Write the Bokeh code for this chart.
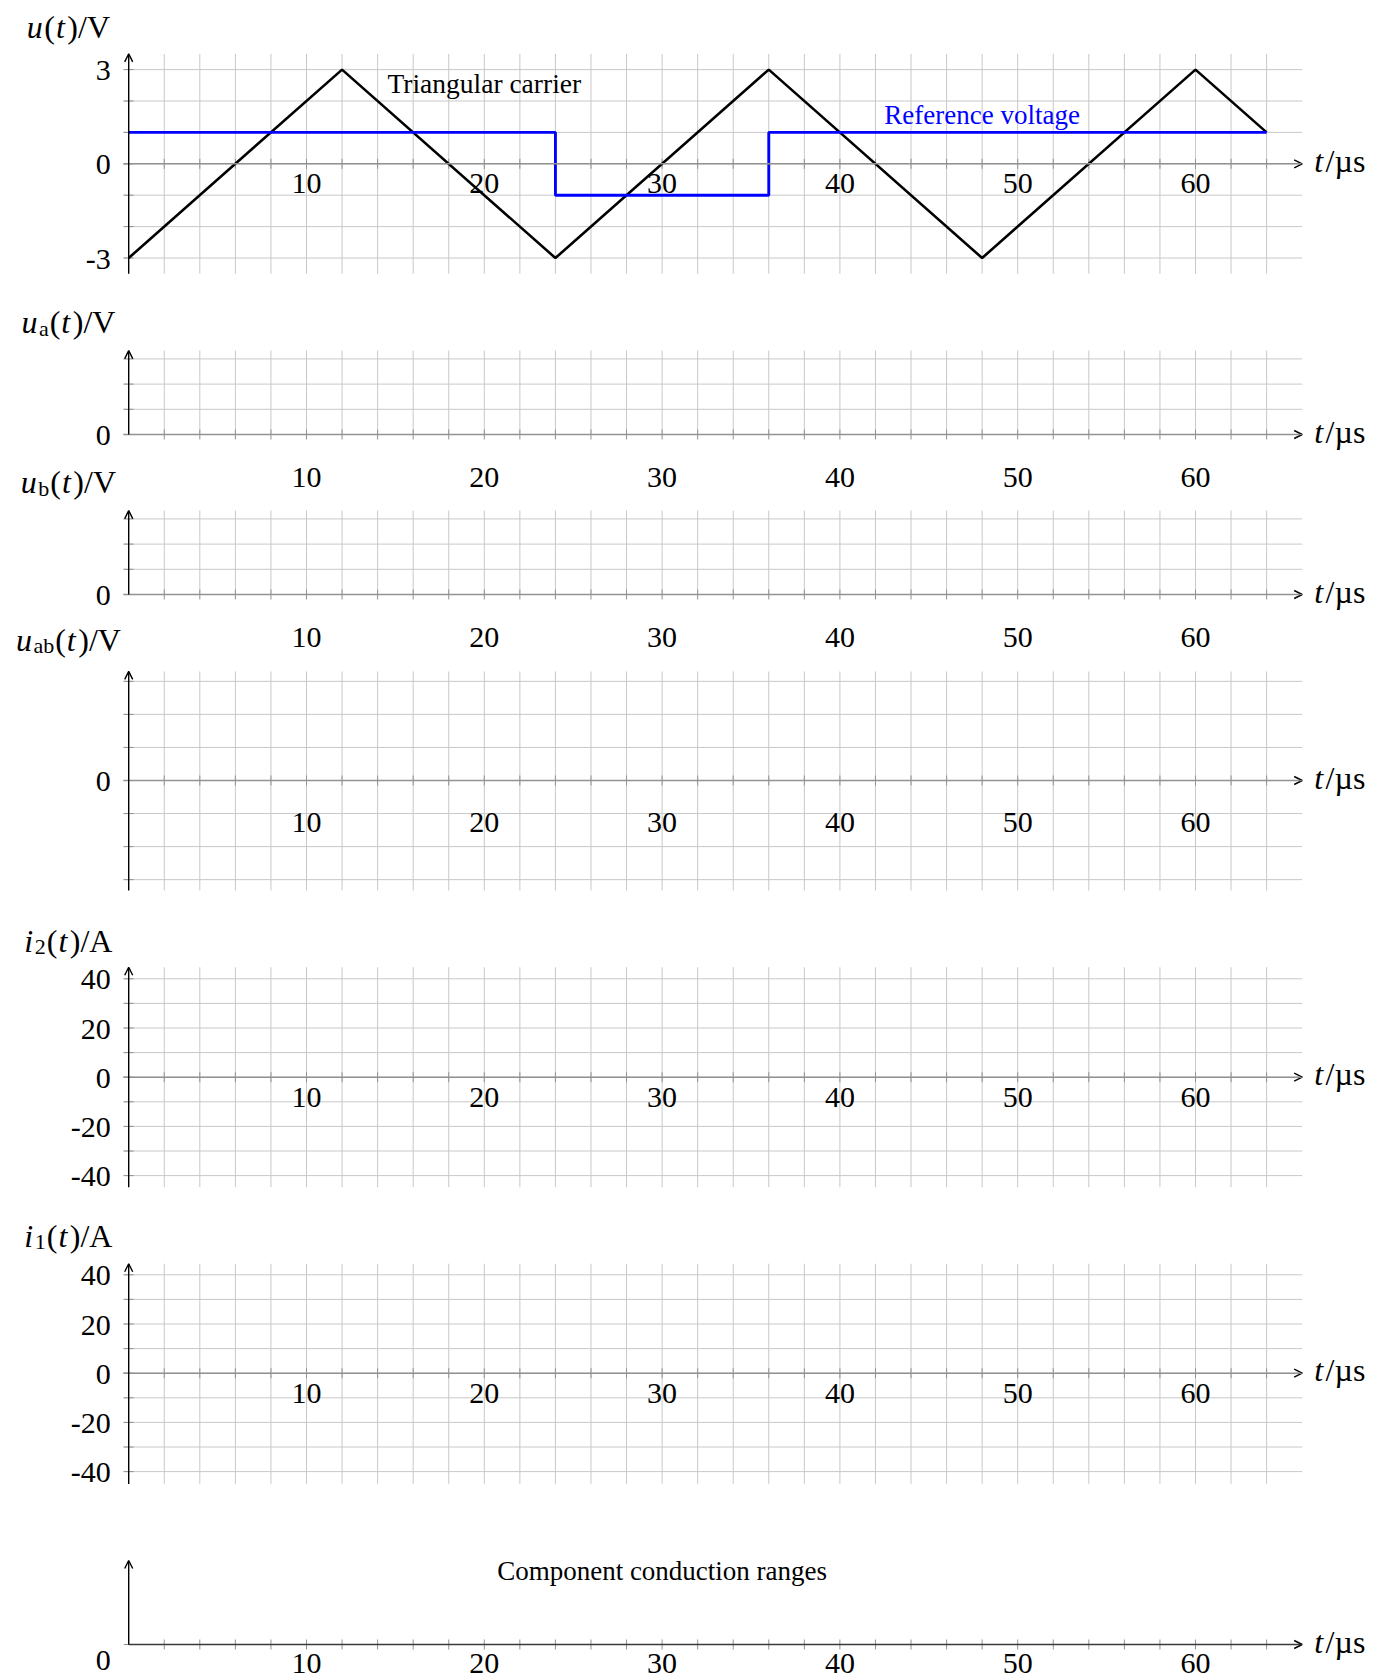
import numpy as np
from bokeh.plotting import figure
from bokeh.models import Range1d, Arrow, OpenHead
from bokeh.core.properties import value
from bokeh.embed import file_html
from bokeh.resources import INLINE

# ---------------- data ----------------
carrier_t = [0, 12, 24, 36, 48, 60, 64]
carrier_u = [-3, 3, -3, 3, -3, 3, 1]
reference_t = [0, 24, 24, 36, 36, 64]
reference_u = [1, 1, -1, -1, 1, 1]

time_ticks = [2, 4, 6, 8, 10, 12, 14, 16, 18, 20, 22, 24, 26, 28, 30, 32,
              34, 36, 38, 40, 42, 44, 46, 48, 50, 52, 54, 56, 58, 60, 62, 64]
time_label_values = [10, 20, 30, 40, 50, 60]
time_labels = ["10", "20", "30", "40", "50", "60"]

u_grid = [-3, -2, -1, 0, 1, 2, 3]
u_tick_values = [3, 0, -3]
u_tick_labels = ["3", "0", "-3"]
uab_grid = [0, 1, 2, 3]           # u_a and u_b panels
uab_diff_grid = [-3, -2, -1, 0, 1, 2, 3]
zero_tick_values = [0]
zero_tick_labels = ["0"]
i_grid = [-40, -30, -20, -10, 0, 10, 20, 30, 40]
i_tick_values = [40, 20, 0, -20, -40]
i_tick_labels = ["40", "20", "0", "-20", "-40"]

# ---------------- layout ----------------
W, H = 1386, 1679
X0 = 128.2      # px of t = 0
SX = 17.78      # px per microsecond
FONT = value("Liberation Serif")
GRID = "#c8c8c8"
TICK = "#929292"

p = figure(width=W, height=H, output_backend="svg", toolbar_location=None,
           x_range=Range1d(-X0 / SX, (W - X0) / SX), y_range=Range1d(0, 1),
           x_axis_location=None, y_axis_location=None, min_border=0,
           outline_line_color=None, background_fill_color="white",
           border_fill_color="white")
p.grid.visible = False

REG = {'(': 333, ')': 333, '/': 278, 'V': 722, 'A': 722, 'a': 444, 'b': 500,
       '1': 500, '2': 500, 'µ': 500, 's': 389}
ITA = {'u': 500, 't': 278, 'i': 278}


def piece_width(txt, style, size):
    table = ITA if style == "italic" else REG
    return sum(table.get(c, 500) for c in txt) / 1000.0 * size


def composite(pieces, x, y, yname, align="center", dx=0.0, dy=0.0):
    total = sum(piece_width(t, s, z) + g for t, s, z, _, g in pieces)
    start = -total / 2 if align == "center" else 0.0
    start += dx
    for t, s, z, shift, gap in pieces:
        p.text(x=[x], y=[y], text=[t], x_offset=start, y_offset=shift + dy,
               text_align="left", text_baseline="alphabetic",
               text_font=FONT, text_font_style=s, text_font_size=f"{z}px",
               text_color="black", y_range_name=yname)
        start += piece_width(t, s, z) + gap


LS = 32   # label font size
SS = 22   # subscript font size


def ylabel_pieces(sub, unit):
    main = "i" if unit == "A" else "u"
    out = [(main, "italic", LS, 0, 1.5)]
    if sub:
        out.append((sub, "normal", SS, 6, 1))
    out += [("(", "normal", LS, 0, 1), ("t", "italic", LS, 0, 2.5),
            (")/" + unit, "normal", LS, 0, 0)]
    return out


panels = [
    dict(name="p1", y0=163.3, s=31.4, ymin=-3.5, ymax=3.5, grid=u_grid,
         tv=u_tick_values, tl=u_tick_labels, xl_dy=20, lab=("", "V"), lab_y=4.09),
    dict(name="p2", y0=434.0, s=25.2, ymin=0, ymax=3.33, grid=uab_grid,
         tv=zero_tick_values, tl=zero_tick_labels, xl_dy=42.7, lab=("a", "V"), lab_y=4.13),
    dict(name="p3", y0=594.0, s=25.2, ymin=0, ymax=3.33, grid=uab_grid,
         tv=zero_tick_values, tl=zero_tick_labels, xl_dy=42.7, lab=("b", "V"), lab_y=4.13),
    dict(name="p4", y0=780.0, s=33.05, ymin=-3.33, ymax=3.3, grid=uab_diff_grid,
         tv=zero_tick_values, tl=zero_tick_labels, xl_dy=42, lab=("ab", "V"), lab_y=4.02),
    dict(name="p5", y0=1076.7, s=2.46, ymin=-44.7, ymax=44.7, grid=i_grid,
         tv=i_tick_values, tl=i_tick_labels, xl_dy=20, lab=("2", "A"), lab_y=52.2),
    dict(name="p6", y0=1372.7, s=2.46, ymin=-45, ymax=44.5, grid=i_grid,
         tv=i_tick_values, tl=i_tick_labels, xl_dy=20.3, lab=("1", "A"), lab_y=52.5),
    dict(name="p7", y0=1644.0, s=25.0, ymin=0, ymax=3.36, grid=None,
         tv=zero_tick_values, tl=zero_tick_labels, xl_dy=19.3, lab=None, lab_y=None),
]

for cfg in panels:
    name = cfg["name"]
    y0 = cfg["y0"]
    s = cfg["s"]
    p.extra_y_ranges[name] = Range1d(-(H - y0) / s, y0 / s)
    ymin, ymax = cfg["ymin"], cfg["ymax"]

    if cfg["grid"] is not None:
        p.segment(x0=time_ticks, y0=[ymin] * len(time_ticks), x1=time_ticks,
                  y1=[ymax] * len(time_ticks), line_color=GRID, line_width=1,
                  y_range_name=name)
        g = cfg["grid"]
        p.segment(x0=[-0.3] * len(g), y0=g, x1=[66.0] * len(g), y1=g,
                  line_color=GRID, line_width=1, y_range_name=name)
        p.scatter(x=[0] * len(g), y=g, marker="dash", size=10, line_color=TICK,
                  line_width=1, y_range_name=name)
        xcol = TICK
        xstart = -0.3
    else:
        p.scatter(x=[0], y=[0], marker="dash", size=10, line_color=TICK,
                  line_width=1, y_range_name=name)
        xcol = "#3a3a3a"
        xstart = 0.0

    # x tick marks
    p.scatter(x=time_ticks, y=[0] * len(time_ticks), marker="dash", angle=np.pi / 2,
              size=10, line_color=TICK, line_width=1, y_range_name=name)

    # axes with arrows
    p.add_layout(Arrow(x_start=xstart, y_start=0, x_end=66.0, y_end=0,
                       line_color=xcol, line_width=1.4,
                       end=OpenHead(size=8, line_color="black", line_width=1.4),
                       y_range_name=name))
    p.add_layout(Arrow(x_start=0, y_start=ymin, x_end=0, y_end=ymax,
                       line_color="black", line_width=1.4,
                       end=OpenHead(size=8, line_color="black", line_width=1.4),
                       y_range_name=name))

    # tick labels
    p.text(x=time_label_values, y=[0] * len(time_label_values), text=time_labels,
           text_align="center", text_baseline="middle", y_offset=cfg["xl_dy"],
           text_font=FONT, text_font_size="30px", text_color="black",
           y_range_name=name)
    yoff = 16 if name == "p7" else 1
    p.text(x=[0] * len(cfg["tv"]), y=cfg["tv"], text=cfg["tl"],
           text_align="right", text_baseline="middle", x_offset=-18, y_offset=yoff,
           text_font=FONT, text_font_size="30px", text_color="black",
           y_range_name=name)

    # t / µs label
    composite([("t", "italic", LS, 0, 2.5), ("/µs", "normal", LS, 0, 0)], 66.0, 0, name,
              align="left", dx=12, dy=-3)
    if cfg["lab"] is not None:
        sub, unit = cfg["lab"]
        composite(ylabel_pieces(sub, unit), -3.39, cfg["lab_y"], name, dy=-8)

# signals in first panel
p.line(carrier_t, carrier_u, line_color="black", line_width=2.6, y_range_name="p1")
p.line(reference_t, reference_u, line_color="#0000ff", line_width=2.9, y_range_name="p1")

p.text(x=[20], y=[2.56], text=["Triangular carrier"], text_align="center",
       text_baseline="middle", text_font=FONT, text_font_size="27.5px",
       text_color="black", y_range_name="p1")
p.text(x=[48], y=[1.54], text=["Reference voltage"], text_align="center",
       text_baseline="middle", text_font=FONT, text_font_size="27px",
       text_color="#0000ff", y_range_name="p1")
p.text(x=[30], y=[2.95], text=["Component conduction ranges"], text_align="center",
       text_baseline="middle", text_font=FONT, text_font_size="27px",
       text_color="black", y_range_name="p7")

open("out.html", "w").write(file_html(p, INLINE))
